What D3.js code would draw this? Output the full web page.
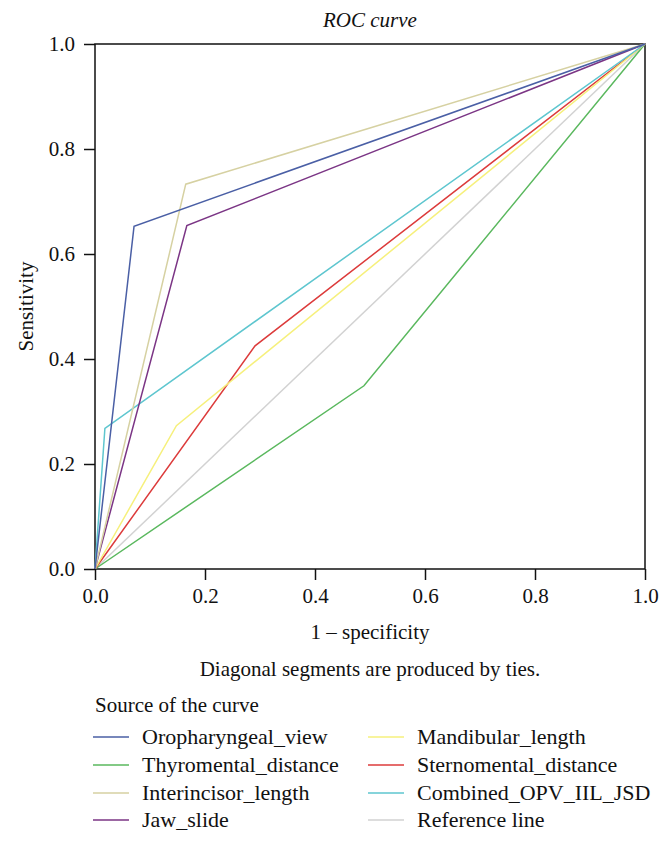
<!DOCTYPE html>
<html lang="en">
<head>
  <meta charset="UTF-8">
  <script src="https://cdn.jsdelivr.net/npm/d3@7"></script>
  <style>
    body { margin: 0; background: #fff; }
    svg text { font-family: "Liberation Serif", "Times New Roman", "DejaVu Serif", serif; fill: #111; }
  </style>
</head>
<body>
<div id="container"></div>
<script>
// curve names, in legend order (column by column)
const curves = ["Oropharyngeal_view", "Thyromental_distance", "Interincisor_length", "Jaw_slide",
                "Mandibular_length", "Sternomental_distance", "Combined_OPV_IIL_JSD", "Reference line"];
const colors = ["#4a5fa5", "#5ab85e", "#d6d1a2", "#7b3585", "#f6f07c", "#dc3b3b", "#5ec6cf", "#d2d2d2"];

// 1 - specificity and sensitivity
const specX = [
  [0, 0.071, 1],
  [0, 0.489, 1],
  [0, 0.165, 1],
  [0, 0.167, 1],
  [0, 0.148, 1],
  [0, 0.291, 1],
  [0, 0.018, 1],
  [0, 1]
];
const sensY = [
  [0, 0.653, 1],
  [0, 0.349, 1],
  [0, 0.733, 1],
  [0, 0.654, 1],
  [0, 0.273, 1],
  [0, 0.425, 1],
  [0, 0.268, 1],
  [0, 1]
];
const ticks = [0, 0.2, 0.4, 0.6, 0.8, 1.0];

const width = 670, height = 843;
const mLeft = 95, mRight = 645, mTop = 44, mBottom = 569;
const serif = "'Liberation Serif', 'Times New Roman', serif";

const svg = d3.create("svg")
    .attr("width", width)
    .attr("height", height)
    .attr("font-family", serif);

const x = d3.scaleLinear().domain([0, 1]).range([mLeft, mRight]);
const y = d3.scaleLinear().domain([0, 1]).range([mBottom, mTop]);

// frame
svg.append("rect")
    .attr("x", mLeft).attr("y", mTop)
    .attr("width", mRight - mLeft).attr("height", mBottom - mTop)
    .attr("fill", "none").attr("stroke", "#111").attr("stroke-width", 1.5);

// curves (reference line first so it sits underneath)
const line = d3.line().x(d => x(d[0])).y(d => y(d[1]));
const order = [7, 1, 5, 4, 6, 3, 2, 0];
order.forEach(i => {
  const pts = specX[i].map((v, k) => [v, sensY[i][k]]);
  svg.append("path")
      .attr("d", line(pts))
      .attr("fill", "none")
      .attr("stroke", colors[i])
      .attr("stroke-width", 1.5);
});

// axes
const xAxis = svg.append("g")
    .attr("transform", `translate(0,${mBottom})`)
    .call(d3.axisBottom(x).tickValues(ticks).tickFormat(d3.format(".1f")).tickSize(11).tickPadding(8));
const yAxis = svg.append("g")
    .attr("transform", `translate(${mLeft},0)`)
    .call(d3.axisLeft(y).tickValues(ticks).tickFormat(d3.format(".1f")).tickSize(11).tickPadding(9));
[xAxis, yAxis].forEach(g => {
  g.attr("font-family", serif).attr("font-size", 21);
  g.select(".domain").remove();
  g.selectAll("line").attr("stroke", "#111").attr("stroke-width", 1.5);
  g.selectAll("text").attr("fill", "#111");
});

// titles
svg.append("text")
    .attr("x", (mLeft + mRight) / 2).attr("y", 27)
    .attr("text-anchor", "middle")
    .attr("font-style", "italic").attr("font-size", 21)
    .text("ROC curve");

svg.append("text")
    .attr("x", (mLeft + mRight) / 2).attr("y", 639)
    .attr("text-anchor", "middle")
    .attr("font-size", 21)
    .text("1 \u2013 specificity");

svg.append("text")
    .attr("transform", `translate(33,${(mTop + mBottom) / 2}) rotate(-90)`)
    .attr("text-anchor", "middle")
    .attr("font-size", 21)
    .text("Sensitivity");

svg.append("text")
    .attr("x", (mLeft + mRight) / 2).attr("y", 676)
    .attr("text-anchor", "middle")
    .attr("font-size", 21)
    .text("Diagonal segments are produced by ties.");

// legend
svg.append("text")
    .attr("x", mLeft).attr("y", 712)
    .attr("font-size", 21)
    .text("Source of the curve");

const colX = [93, 368];
const rowY = [737, 765, 793, 820];
curves.forEach((name, i) => {
  const cx = colX[Math.floor(i / 4)], cy = rowY[i % 4];
  svg.append("line")
      .attr("x1", cx).attr("x2", cx + 36)
      .attr("y1", cy).attr("y2", cy)
      .attr("stroke", colors[i]).attr("stroke-width", 1.5);
  svg.append("text")
      .attr("x", cx + 49).attr("y", cy)
      .attr("dy", "0.33em")
      .attr("font-size", 22)
      .text(name);
});

document.getElementById("container").appendChild(svg.node());
</script>
</body>
</html>
